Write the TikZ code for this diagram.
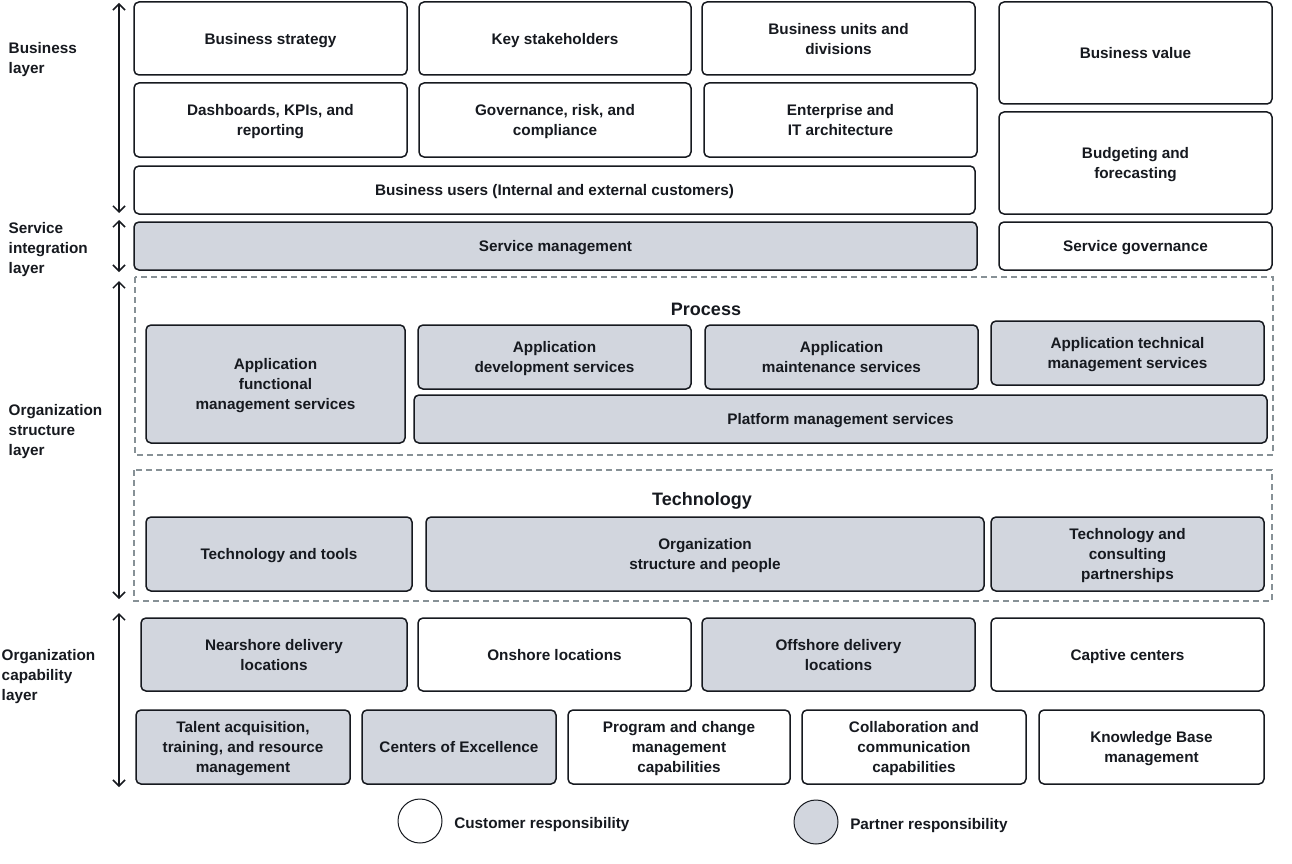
\documentclass[tikz,border=0pt]{standalone}
\usepackage{fontspec}
\setmainfont{Liberation Sans}
\usetikzlibrary{arrows.meta,positioning}

\definecolor{inkdark}{HTML}{16191F}
\definecolor{partnergrey}{HTML}{D2D6DE}
\definecolor{dashgrey}{HTML}{879196}

\tikzset{every picture/.style={line width=1.5pt}}
\tikzset{
	boxfont/.style={font=\bfseries\fontsize{15.3}{20}\selectfont, text=inkdark},
	cbox/.style={boxfont, draw=inkdark, fill=white, rounded corners=5pt, align=center, inner sep=0pt, text depth=-1pt},
	pbox/.style={cbox, fill=partnergrey},
	groupbox/.style={draw=dashgrey, line width=1.2pt, dash pattern=on 6pt off 4pt},
	grouptitle/.style={font=\bfseries\fontsize{18}{22}\selectfont, text=inkdark},
	layerlabel/.style={boxfont, anchor=west, align=left, inner sep=0pt},
	layerarrow/.style={draw=inkdark, line width=1.5pt, {Straight Barb[length=6pt,width=12pt]}-{Straight Barb[length=6pt,width=12pt]}},
	legenddot/.style={circle, draw=inkdark, line width=1pt, minimum size=44pt, inner sep=0pt},
	legendtext/.style={boxfont, anchor=west, inner sep=0pt}
}

\begin{document}
\begin{tikzpicture}[x=1pt,y=1pt,yscale=-1,xscale=1]
	\fill[white] (0,0) rectangle (1292,864);
	\useasboundingbox (0,0) rectangle (1292,864);

	% Layer labels
	\node[layerlabel] (lblbusiness) at (8,60) {Business\\layer};
	\node[layerlabel] (lblservice) at (8,250) {Service\\integration\\layer};
	\node[layerlabel] (lblstructure) at (8,432) {Organization\\structure\\layer};
	\node[layerlabel] (lblcapability) at (1,677) {Organization\\capability\\layer};

	% Layer arrows
	\coordinate (busA) at (119,3);
	\coordinate (busB) at (119,213);
	\coordinate (svcA) at (119,220);
	\coordinate (svcB) at (119,272);
	\coordinate (orgA) at (119,281);
	\coordinate (orgB) at (119,599);
	\coordinate (capA) at (119,613);
	\coordinate (capB) at (119,787);
	\draw[layerarrow] (busA) -- (busB);
	\draw[layerarrow] (svcA) -- (svcB);
	\draw[layerarrow] (orgA) -- (orgB);
	\draw[layerarrow] (capA) -- (capB);

	% Business layer
	\node[cbox, minimum width=273pt, minimum height=73pt] (strategy) at (270.5,38.5) {Business strategy};
	\node[cbox, minimum width=272pt, minimum height=73pt] (stakeholders) at (555,38.5) {Key stakeholders};
	\node[cbox, minimum width=273pt, minimum height=73pt] (units) at (838.5,38.5) {Business units and\\divisions};
	\node[cbox, minimum width=273pt, minimum height=102pt] (value) at (1135.5,53) {Business value};
	\node[cbox, minimum width=273pt, minimum height=74pt] (dashboards) at (270.5,120) {Dashboards, KPIs, and\\reporting};
	\node[cbox, minimum width=272pt, minimum height=74pt] (governance) at (555,120) {Governance, risk, and\\compliance};
	\node[cbox, minimum width=273pt, minimum height=74pt] (architecture) at (840.5,120) {Enterprise and\\IT architecture};
	\node[cbox, minimum width=273pt, minimum height=102pt] (budgeting) at (1135.5,163) {Budgeting and\\forecasting};
	\node[cbox, minimum width=841pt, minimum height=48pt] (bizusers) at (554.5,190) {Business users (Internal and external customers)};

	% Service integration layer
	\node[pbox, minimum width=843pt, minimum height=48pt] (servicemgmt) at (555.5,246) {Service management};
	\node[cbox, minimum width=273pt, minimum height=48pt] (servicegov) at (1135.5,246) {Service governance};

	% Process group
	\draw[groupbox] (135,277) rectangle (1273,455);
	\node[grouptitle] (process) at (706,309) {Process};
	\node[pbox, minimum width=259pt, minimum height=118pt] (appfunc) at (275.5,384) {Application\\functional\\management services};
	\node[pbox, minimum width=273pt, minimum height=64pt] (appdev) at (554.5,357) {Application\\development services};
	\node[pbox, minimum width=273pt, minimum height=64pt] (appmaint) at (841.5,357) {Application\\maintenance services};
	\node[pbox, minimum width=273pt, minimum height=64pt] (apptech) at (1127.5,353) {Application technical\\management services};
	\node[pbox, minimum width=853pt, minimum height=48pt] (platform) at (840.5,419) {Platform management services};

	% Technology group
	\draw[groupbox] (134,470) rectangle (1272,601);
	\node[grouptitle] (technology) at (702,501) {Technology};
	\node[pbox, minimum width=266pt, minimum height=74pt] (techtools) at (279,554) {Technology and tools};
	\node[pbox, minimum width=558pt, minimum height=74pt] (orgpeople) at (705,554) {Organization\\structure and people};
	\node[pbox, minimum width=273pt, minimum height=74pt] (partnerships) at (1127.5,554) {Technology and\\consulting\\partnerships};

	% Organization capability layer
	\node[pbox, minimum width=266pt, minimum height=73pt] (nearshore) at (274,654.5) {Nearshore delivery\\locations};
	\node[cbox, minimum width=273pt, minimum height=73pt] (onshore) at (554.5,654.5) {Onshore locations};
	\node[pbox, minimum width=273pt, minimum height=73pt] (offshore) at (838.5,654.5) {Offshore delivery\\locations};
	\node[cbox, minimum width=273pt, minimum height=73pt] (captive) at (1127.5,654.5) {Captive centers};
	\node[pbox, minimum width=214pt, minimum height=74pt] (talent) at (243,747) {Talent acquisition,\\training, and resource\\management};
	\node[pbox, minimum width=194pt, minimum height=74pt] (coe) at (459,747) {Centers of Excellence};
	\node[cbox, minimum width=222pt, minimum height=74pt] (program) at (679,747) {Program and change\\management\\capabilities};
	\node[cbox, minimum width=224pt, minimum height=74pt] (collab) at (914,747) {Collaboration and\\communication\\capabilities};
	\node[cbox, minimum width=225pt, minimum height=74pt] (knowledge) at (1151.5,747) {Knowledge Base\\management};

	% Legend
	\node[legenddot, fill=white] (custdot) at (420,821) {};
	\node[legendtext, right=11pt of custdot, yshift=-4pt] (custtext) {Customer responsibility};
	\node[legenddot, fill=partnergrey] (partdot) at (816,822) {};
	\node[legendtext, right=11pt of partdot, yshift=-4pt] (parttext) {Partner responsibility};

\end{tikzpicture}
\end{document}
